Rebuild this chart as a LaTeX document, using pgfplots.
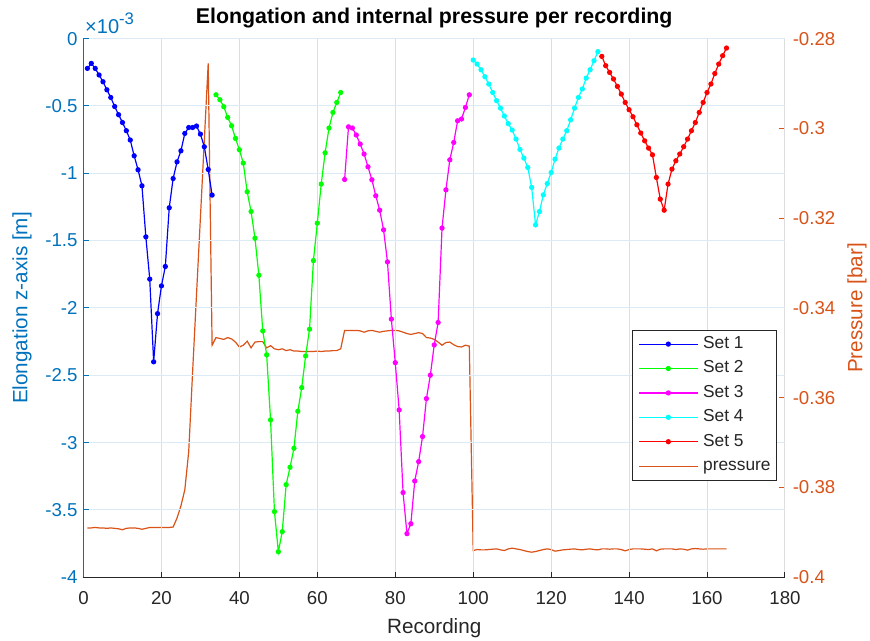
\documentclass[border=0pt]{standalone}
\usepackage{pgfplots}
\pgfplotsset{compat=1.18}
\usepackage{fontspec}
\setmainfont{Liberation Sans}
\definecolor{lblue}{RGB}{0,114,189}
\definecolor{rorange}{RGB}{217,83,25}
\definecolor{agray}{RGB}{38,38,38}
\definecolor{gridblue}{RGB}{220,234,245}
\definecolor{gridgray}{RGB}{222,222,222}
\definecolor{setgreen}{RGB}{0,255,0}
\definecolor{setmag}{RGB}{255,0,255}
\definecolor{setcyan}{RGB}{0,255,255}
\begin{document}
\begin{tikzpicture}
% right axis (pressure) first, so that the sets lie over it
\begin{axis}[
 at={(0,0)}, anchor=south west,
 scale only axis, width=526.1pt, height=404pt,
 xmin=0, xmax=180, ymin=-0.4, ymax=-0.28,
 axis x line=none, axis y line*=right,
 y axis line style={draw=rorange, line width=0.75pt, -},
 ytick={-0.4,-0.38,-0.36,-0.34,-0.32,-0.3,-0.28},
 yticklabels={-0.4,-0.38,-0.36,-0.34,-0.32,-0.3,-0.28},
 tick align=inside, major tick length=4.3pt,
 y tick style={draw=rorange, line width=0.75pt},
 yticklabel style={text=rorange, font=\fontsize{14}{14}\selectfont, xshift=2.3pt},
 ylabel={Pressure [bar]},
 ylabel style={at={(axis description cs:1.1027,0.5)}, anchor=center, rotate=0, text=rorange, font=\fontsize{15.5}{15.5}\selectfont},
]
\addplot[rorange, line width=0.9pt] coordinates {
(1,-0.3890) (2,-0.3890) (3,-0.3889) (4,-0.3890) (5,-0.3890) (6,-0.3891) (7,-0.3890) (8,-0.3891) (9,-0.3892) (10,-0.3894)
(11,-0.3891) (12,-0.3890) (13,-0.3890) (14,-0.3891) (15,-0.3893) (16,-0.3891) (17,-0.3889) (18,-0.3889) (19,-0.3889) (20,-0.3889)
(21,-0.3889) (22,-0.3889) (23,-0.3888) (24,-0.3868) (25,-0.3841) (26,-0.3805) (27,-0.3720) (28,-0.3542) (29,-0.3370) (30,-0.3199)
(31,-0.3027) (32,-0.2855) (33,-0.3483) (34,-0.3466) (35,-0.3468) (36,-0.3470) (37,-0.3466) (38,-0.3469) (39,-0.3476) (40,-0.3487)
(41,-0.3483) (42,-0.3474) (43,-0.3489) (44,-0.3476) (45,-0.3475) (46,-0.3475) (47,-0.3489) (48,-0.3484) (49,-0.3491) (50,-0.3493)
(51,-0.3491) (52,-0.3495) (53,-0.3493) (54,-0.3496) (55,-0.3496) (56,-0.3497) (57,-0.3497) (58,-0.3497) (59,-0.3497) (60,-0.3496)
(61,-0.3497) (62,-0.3496) (63,-0.3496) (64,-0.3495) (65,-0.3495) (66,-0.3491) (67,-0.3450) (68,-0.3450) (69,-0.3450) (70,-0.3450)
(71,-0.3451) (72,-0.3454) (73,-0.3451) (74,-0.3450) (75,-0.3452) (76,-0.3454) (77,-0.3452) (78,-0.3451) (79,-0.3450) (80,-0.3450)
(81,-0.3451) (82,-0.3454) (83,-0.3457) (84,-0.3459) (85,-0.3457) (86,-0.3455) (87,-0.3457) (88,-0.3466) (89,-0.3467) (90,-0.3470)
(91,-0.3476) (92,-0.3483) (93,-0.3477) (94,-0.3476) (95,-0.3482) (96,-0.3486) (97,-0.3487) (98,-0.3483) (99,-0.3485) (100,-0.39404)
(101,-0.39382) (102,-0.39389) (103,-0.39389) (104,-0.39382) (105,-0.39374) (106,-0.39367) (107,-0.39389) (108,-0.39404) (109,-0.39367) (110,-0.39351)
(111,-0.39367) (112,-0.39382) (113,-0.39404) (114,-0.39426) (115,-0.39441) (116,-0.39426) (117,-0.39404) (118,-0.39382) (119,-0.39367) (120,-0.39382)
(121,-0.39418) (122,-0.39404) (123,-0.39389) (124,-0.39382) (125,-0.39374) (126,-0.39367) (127,-0.39382) (128,-0.39389) (129,-0.39374) (130,-0.39367)
(131,-0.39382) (132,-0.39389) (133,-0.39367) (134,-0.39367) (135,-0.39374) (136,-0.39367) (137,-0.39367) (138,-0.39382) (139,-0.39411) (140,-0.39382)
(141,-0.39367) (142,-0.39367) (143,-0.39367) (144,-0.39374) (145,-0.39382) (146,-0.39367) (147,-0.39411) (148,-0.39374) (149,-0.39367) (150,-0.39367)
(151,-0.39367) (152,-0.39382) (153,-0.39367) (154,-0.39374) (155,-0.39396) (156,-0.39367) (157,-0.39360) (158,-0.39367) (159,-0.39374) (160,-0.39367)
(161,-0.39367) (162,-0.39367) (163,-0.39367) (164,-0.39367) (165,-0.39367)
};
\end{axis}
% left axis (elongation)
\begin{axis}[
 name=leftax,
 at={(0,0)}, anchor=south west,
 scale only axis, width=526.1pt, height=404pt,
 xmin=0, xmax=180, ymin=-4, ymax=0,
 axis x line*=bottom, axis y line*=left,
 x axis line style={draw=agray, line width=0.75pt, -},
 y axis line style={draw=lblue, line width=0.75pt, -},
 xtick={0,20,40,60,80,100,120,140,160,180},
 xticklabels={0,20,40,60,80,100,120,140,160,180},
 ytick={-4,-3.5,-3,-2.5,-2,-1.5,-1,-0.5,0},
 yticklabels={-4,-3.5,-3,-2.5,-2,-1.5,-1,-0.5,0},
 tick align=inside, major tick length=4.3pt,
 x tick style={draw=agray, line width=0.75pt},
 y tick style={draw=lblue, line width=0.75pt},
 xticklabel style={text=agray, font=\fontsize{14}{14}\selectfont, yshift=-7.2pt},
 yticklabel style={text=lblue, font=\fontsize{14}{14}\selectfont, xshift=-1pt},
 xmajorgrids, ymajorgrids,
 x grid style={gridgray, line width=0.75pt},
 y grid style={gridblue, line width=0.75pt},
 xlabel={Recording},
 xlabel style={at={(axis description cs:0.5,-0.094)}, anchor=center, text=agray, font=\fontsize{15.5}{15.5}\selectfont},
 ylabel={Elongation z-axis [m]},
 ylabel style={at={(axis description cs:-0.0877,0.5)}, anchor=center, rotate=0, text=lblue, font=\fontsize{15.5}{15.5}\selectfont},
 title={Elongation and internal pressure per recording},
 title style={at={(axis description cs:0.5,1.038)}, anchor=center, yshift=-6pt, text=black, font=\fontsize{16}{16}\selectfont\bfseries},
 legend cell align=left,
 legend image code/.code={\draw[mark repeat=2,mark phase=2,#1] plot coordinates {(0pt,0pt) (21.9pt,0pt) (43.8pt,0pt)};},
 legend style={at={(0.9886,0.460)}, anchor=north east, draw=agray, line width=0.6pt, fill=white,
   font=\fontsize{13}{13}\selectfont, inner xsep=4.5pt, inner ysep=4.5pt, row sep=6pt, column sep=3.75pt,
   nodes={inner sep=0pt, text height=9.5pt, text depth=2.8pt, text=agray}},
 every axis plot/.append style={line width=0.9pt, mark size=1.5pt},
]
\addplot[blue, mark=*, mark options={solid}] coordinates {
(1,-0.221) (2,-0.184) (3,-0.221) (4,-0.270) (5,-0.320) (6,-0.380) (7,-0.437) (8,-0.504) (9,-0.565) (10,-0.623)
(11,-0.684) (12,-0.753) (13,-0.870) (14,-0.974) (15,-1.093) (16,-1.472) (17,-1.786) (18,-2.400) (19,-2.042) (20,-1.836)
(21,-1.692) (22,-1.256) (23,-1.039) (24,-0.915) (25,-0.833) (26,-0.704) (27,-0.660) (28,-0.660) (29,-0.649) (30,-0.709)
(31,-0.803) (32,-0.972) (33,-1.162)
};
\addlegendentry{Set 1}
\addplot[setgreen, mark=*, mark options={solid}] coordinates {
(34,-0.417) (35,-0.454) (36,-0.506) (37,-0.585) (38,-0.647) (39,-0.741) (40,-0.825) (41,-0.924) (42,-1.137) (43,-1.284)
(44,-1.482) (45,-1.757) (46,-2.170) (47,-2.348) (48,-2.831) (49,-3.512) (50,-3.810) (51,-3.661) (52,-3.312) (53,-3.183)
(54,-3.042) (55,-2.767) (56,-2.591) (57,-2.356) (58,-2.158) (59,-1.648) (60,-1.370) (61,-1.080) (62,-0.848) (63,-0.664)
(64,-0.548) (65,-0.474) (66,-0.400)
};
\addlegendentry{Set 2}
\addplot[setmag, mark=*, mark options={solid}] coordinates {
(67,-1.046) (68,-0.655) (69,-0.664) (70,-0.716) (71,-0.783) (72,-0.857) (73,-0.952) (74,-1.048) (75,-1.167) (76,-1.274)
(77,-1.420) (78,-1.658) (79,-2.083) (80,-2.406) (81,-2.757) (82,-3.371) (83,-3.676) (84,-3.602) (85,-3.285) (86,-3.141)
(87,-2.955) (88,-2.673) (89,-2.499) (90,-2.274) (91,-2.108) (92,-1.407) (93,-1.123) (94,-0.900) (95,-0.771) (96,-0.610)
(97,-0.597) (98,-0.511) (99,-0.417)
};
\addlegendentry{Set 3}
\addplot[setcyan, mark=*, mark options={solid}] coordinates {
(100,-0.159) (101,-0.189) (102,-0.231) (103,-0.283) (104,-0.337) (105,-0.400) (106,-0.461) (107,-0.516) (108,-0.575) (109,-0.632)
(110,-0.679) (111,-0.746) (112,-0.823) (113,-0.887) (114,-0.957) (115,-1.105) (116,-1.383) (117,-1.284) (118,-1.160) (119,-1.076)
(120,-0.994) (121,-0.895) (122,-0.813) (123,-0.746) (124,-0.684) (125,-0.603) (126,-0.516) (127,-0.437) (128,-0.374) (129,-0.293)
(130,-0.231) (131,-0.164) (132,-0.097)
};
\addlegendentry{Set 4}
\addplot[red, mark=*, mark options={solid}] coordinates {
(133,-0.132) (134,-0.201) (135,-0.251) (136,-0.300) (137,-0.355) (138,-0.412) (139,-0.474) (140,-0.528) (141,-0.580) (142,-0.640)
(143,-0.701) (144,-0.759) (145,-0.813) (146,-0.863) (147,-1.031) (148,-1.192) (149,-1.274) (150,-1.080) (151,-0.969) (152,-0.907)
(153,-0.857) (154,-0.803) (155,-0.746) (156,-0.684) (157,-0.623) (158,-0.548) (159,-0.474) (160,-0.400) (161,-0.337) (162,-0.259)
(163,-0.189) (164,-0.127) (165,-0.070)
};
\addlegendentry{Set 5}
\addlegendimage{rorange, line width=0.9pt}
\addlegendentry{pressure}
\end{axis}
\node[anchor=base west, inner sep=0pt, text=lblue, font=\fontsize{15}{15}\selectfont] at ([xshift=1.1pt,yshift=4pt]leftax.north west) {×10\raisebox{0.45em}{\fontsize{12.5}{12.5}\selectfont -3}};
\pgfresetboundingbox
\useasboundingbox (-62.625pt,-47.775pt) rectangle (589.875pt,432.975pt);
\end{tikzpicture}
\end{document}
